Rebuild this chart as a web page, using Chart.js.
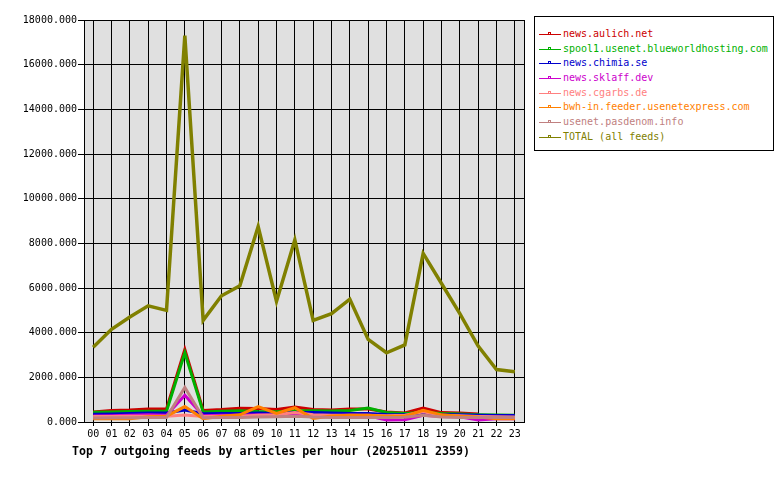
<!DOCTYPE html>
<html>
<head>
<meta charset="utf-8">
<script src="https://cdn.jsdelivr.net/npm/chart.js@4"></script>
<style>
  body { margin: 0; background: #fff; }
  #wrap { position: relative; width: 780px; height: 480px; }
  #legend {
    position: absolute; left: 534px; top: 16px; width: 240px; height: 135px;
    border: 1px solid #000; background: #fff;
    font: 10px "DejaVu Sans Mono", monospace;
    padding-top: 10px; box-sizing: border-box;
  }
  .item { height: 14.7px; line-height: 14.7px; white-space: nowrap; position: relative; }
  .sym { position: absolute; left: 4px; top: 7px; width: 22px; height: 1px; }
  .sym i { position: absolute; left: 9px; top: -2px; width: 3px; height: 3px; border: 1px solid; box-sizing: border-box; background: #fff; }
  .txt { position: absolute; left: 28px; top: 0; }
  #title {
    position: absolute; left: 72px; top: 444px;
    font: bold 11.6px "DejaVu Sans Mono", monospace; color: #000; white-space: nowrap;
  }
</style>
</head>
<body>
<div id="wrap">
  <canvas id="chart" width="780" height="480"></canvas>
  <div id="legend"></div>
  <div id="title">Top 7 outgoing feeds by articles per hour (20251011 2359)</div>
</div>
<script>
const hours = ['00','01','02','03','04','05','06','07','08','09','10','11','12','13','14','15','16','17','18','19','20','21','22','23'];

const yTicks = [0, 2000, 4000, 6000, 8000, 10000, 12000, 14000, 16000, 18000];

const feedNames = [
  'news.aulich.net',
  'spool1.usenet.blueworldhosting.com',
  'news.chimia.se',
  'news.sklaff.dev',
  'news.cgarbs.de',
  'bwh-in.feeder.usenetexpress.com',
  'usenet.pasdenom.info',
  'TOTAL (all feeds)',
];

const feedColors = ['#cc0000', '#00b000', '#0000cc', '#cc00cc', '#ff8080', '#ff8000', '#c08080', '#808000'];

const aulich     = [450, 520, 540, 580, 580, 3250, 520, 560, 620, 600, 560, 670, 560, 540, 580, 580, 450, 400, 630, 420, 400, 360, null, null];
const spool1     = [440, 450, 470, 480, 480, 3100, 450, 480, 500, 470, 460, 500, 500, 490, 520, 630, 430, 380, 420, 380, 360, 330, 310, 300];
const chimia     = [350, 360, 380, 400, 400, 540, 370, 380, 380, 400, 380, 420, 420, 400, 380, 380, 340, 330, 380, 330, 320, 300, 290, 290];
const sklaff     = [270, 280, 300, 320, 300, 1200, 280, 300, 300, 330, 300, 350, 300, 280, 300, 280, 90, 100, 300, 250, 230, 90, 150, 150];
const cgarbs     = [250, 250, 260, 260, 260, 310, 250, 260, 260, 300, 320, 420, 320, 300, 300, 300, 280, 300, 460, 300, 280, 250, 230, 220];
const bwh        = [140, 140, 140, 240, 260, 690, 150, 260, 320, 690, 380, 640, 160, 270, 300, 300, 260, 260, 520, 320, 260, 220, 140, 140];
const pasdenom   = [180, 190, 190, 200, 200, 1550, 190, 200, 200, 220, 240, 260, 220, 200, 200, 200, 200, 210, 300, 220, 200, 200, 200, 200];
const total      = [3350, 4150, 4700, 5200, 5000, 17300, 4550, 5650, 6100, 8750, 5400, 8150, 4550, 4850, 5500, 3700, 3100, 3450, 7550, 6200, 4850, 3400, 2350, 2250];

const seriesValues = [aulich, spool1, chimia, sklaff, cgarbs, bwh, pasdenom, total];

// Legend
const legend = document.getElementById('legend');
feedNames.forEach((name, i) => {
  const c = feedColors[i];
  legend.innerHTML += `<div class="item"><span class="sym" style="background:${c}"><i style="border-color:${c}"></i></span><span class="txt" style="color:${c}">${name}</span></div>`;
});

const plotBg = {
  id: 'plotBg',
  beforeDraw(chart) {
    const { ctx, chartArea: a } = chart;
    ctx.save();
    ctx.fillStyle = '#e0e0e0';
    ctx.fillRect(a.left, a.top, a.right - a.left, a.bottom - a.top);
    ctx.restore();
  },
  afterDraw(chart) {
    const { ctx, chartArea: a } = chart;
    ctx.save();
    ctx.strokeStyle = '#000';
    ctx.lineWidth = 1;
    ctx.strokeRect(a.left + 0.5, a.top + 0.5, a.right - a.left, a.bottom - a.top);
    ctx.restore();
  },
};

new Chart(document.getElementById('chart').getContext('2d'), {
  type: 'line',
  data: {
    labels: hours,
    // reversed so TOTAL ends up drawn last (on top)
    datasets: feedNames.map((name, i) => ({
      label: name,
      data: seriesValues[i],
      borderColor: feedColors[i],
      backgroundColor: feedColors[i],
      borderWidth: i === 7 ? 3.5 : 3,
      pointRadius: 0,
      tension: 0,
      fill: false,
    })).reverse(),
  },
  options: {
    responsive: false,
    animation: false,
    layout: { padding: { left: 0, right: 256, top: 20, bottom: 38 } },
    plugins: {
      legend: { display: false },
      title: { display: false },
      tooltip: { enabled: false },
    },
    scales: {
      x: {
        offset: true,
        grid: { color: '#000', offset: false, tickLength: 4, drawOnChartArea: true },
        border: { color: '#000' },
        ticks: { color: '#000', font: { family: 'DejaVu Sans Mono', size: 10 }, padding: 2, maxRotation: 0, autoSkip: false },
        afterFit: (s) => { s.height = 20; },
      },
      y: {
        min: 0,
        max: 18000,
        afterBuildTicks: (s) => { s.ticks = yTicks.map((v) => ({ value: v })); },
        grid: { color: '#000', tickLength: 6 },
        border: { color: '#000' },
        ticks: {
          color: '#000',
          font: { family: 'DejaVu Sans Mono', size: 10 },
          padding: 1,
          callback: (v) => v.toFixed(3),
        },
        afterFit: (s) => { s.width = 84; },
      },
    },
  },
  plugins: [plotBg],
});
</script>
</body>
</html>
